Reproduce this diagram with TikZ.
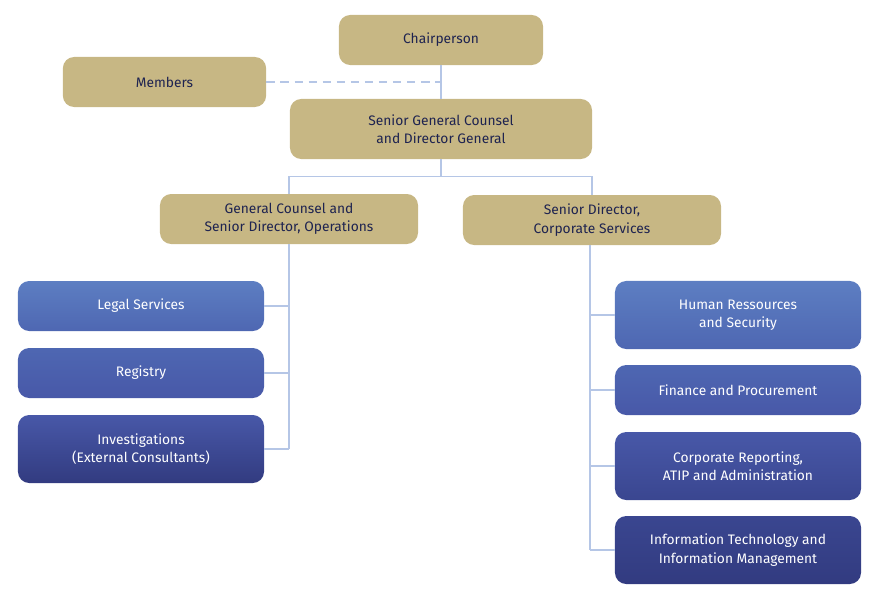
\documentclass[tikz,border=0pt]{standalone}
\usepackage{fontspec}
\setmainfont{Fira Sans}
\usepackage{xcolor}
\usepackage{tikz}
\usetikzlibrary{positioning, calc}
\definecolor{boardgold}{HTML}{C7B784}
\definecolor{inknavy}{HTML}{1E2350}
\definecolor{linkblue}{HTML}{B5C6E6}
\definecolor{unitblueA}{HTML}{5D7EC2}
\definecolor{unitblueB}{HTML}{4E67B2}
\definecolor{unitblueC}{HTML}{4858A8}
\definecolor{unitblueD}{HTML}{3A4690}
\definecolor{unitblueE}{HTML}{323B80}

\begin{document}
\begin{tikzpicture}[x=0.025cm, y=-0.025cm, font=\fontsize{9.8}{13}\selectfont]
    \tikzstyle{office} = [rectangle, rounded corners=8pt, align=center, text=inknavy,
      fill=boardgold, draw=none, minimum height=1.25cm]
    \tikzstyle{unit} = [rectangle, rounded corners=8pt, align=center, text=white,
      draw=none, minimum width=6.15cm, minimum height=1.25cm]
    \tikzstyle{link} = [draw=linkblue, line width=0.8pt]

    \useasboundingbox (0,0) rectangle (880,600);

    % Top of the board
    \node (chair)   [office, minimum width=5.1cm]               at (441,40)  {Chairperson};
    \node (members) [office, minimum width=5.08cm]              at (164.5,82) {Members};
    \node (sgc)     [office, minimum width=7.55cm, minimum height=1.5cm] at (441,129)
      {Senior General Counsel\\and Director General};

    % Second level
    \node (ops)  [office, minimum width=6.45cm] at (289,219)
      {General Counsel and\\Senior Director, Operations};
    \node (corp) [office, minimum width=6.45cm] at (592,220)
      {Senior Director,\\Corporate Services};

    % Units under operations
    \node (legal) [unit, top color=unitblueA, bottom color=unitblueB] at (141,306) {Legal Services};
    \node (reg)   [unit, top color=unitblueB, bottom color=unitblueC] at (141,373) {Registry};
    \node (inv)   [unit, minimum height=1.7cm, top color=unitblueC, bottom color=unitblueE] at (141,449)
      {Investigations\\(External Consultants)};

    % Units under corporate services
    \node (hr)  [unit, minimum height=1.7cm, top color=unitblueA, bottom color=unitblueB] at (738,315)
      {Human Ressources\\and Security};
    \node (fin) [unit, top color=unitblueB, bottom color=unitblueC] at (738,390) {Finance and Procurement};
    \node (rep) [unit, minimum height=1.7cm, top color=unitblueC, bottom color=unitblueD] at (738,466)
      {Corporate Reporting,\\ATIP and Administration};
    \node (it)  [unit, minimum height=1.7cm, top color=unitblueD, bottom color=unitblueE] at (738,550)
      {Information Technology and\\Information Management};

    % Chair -> SGC, members dashed
    \draw [link] (chair.south) -- (sgc.north);
    \draw [link, dashed, dash pattern=on 6pt off 4pt] (members.east) -- (members.east -| chair.south);

    % SGC -> second level
    \coordinate (split) at ($(sgc.south)+(0,17)$);
    \draw [link] (sgc.south) -- (split);
    \draw [link] (ops.north) |- (split) -| (corp.north);

    % Operations branch
    \coordinate (opsbus) at (289,449);
    \draw [link] (ops.south) -- (opsbus);
    \foreach \u in {legal, reg, inv}
      \draw [link] (\u.east) -- (\u.east -| opsbus);

    % Corporate branch
    \coordinate (corpbus) at (590,550);
    \draw [link] (corp.south -| corpbus) -- (corpbus);
    \foreach \u in {hr, fin, rep, it}
      \draw [link] (\u.west) -- (\u.west -| corpbus);
\end{tikzpicture}
\end{document}
